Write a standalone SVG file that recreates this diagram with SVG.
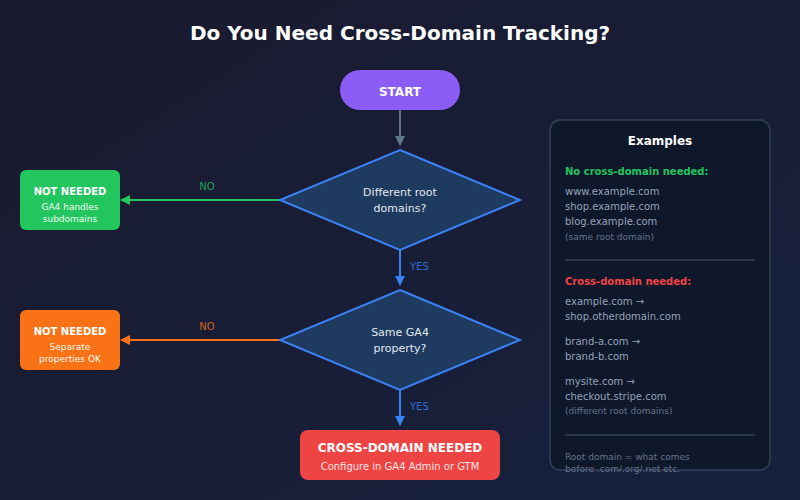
<svg xmlns="http://www.w3.org/2000/svg" width="800" height="500" viewBox="0 0 800 500">
<defs>
<linearGradient id="bg" x1="0" y1="0" x2="1" y2="1">
<stop offset="0" stop-color="#1a1a2e"/>
<stop offset="1" stop-color="#16213e"/>
</linearGradient>
<marker id="ag" markerWidth="10" markerHeight="10" refX="9" refY="5" orient="auto" markerUnits="userSpaceOnUse"><path d="M0,0 L10,5 L0,10 z" fill="#64748b"/></marker>
<marker id="ab" markerWidth="10" markerHeight="10" refX="9" refY="5" orient="auto" markerUnits="userSpaceOnUse"><path d="M0,0 L10,5 L0,10 z" fill="#3b82f6"/></marker>
<marker id="agr" markerWidth="10" markerHeight="10" refX="9" refY="5" orient="auto" markerUnits="userSpaceOnUse"><path d="M0,0 L10,5 L0,10 z" fill="#22c55e"/></marker>
<marker id="aor" markerWidth="10" markerHeight="10" refX="9" refY="5" orient="auto" markerUnits="userSpaceOnUse"><path d="M0,0 L10,5 L0,10 z" fill="#f97316"/></marker>
</defs>
<style>
text{font-family:"DejaVu Sans","Noto Sans",sans-serif}
.c{text-anchor:middle}
.b{font-weight:bold}
.dia{fill:#1e3a5f;stroke:#3b82f6;stroke-width:2}
.dt{fill:#e2e8f0;font-size:11px}
.lbl{font-size:10px}
.ex{fill:#94a3b8;font-size:10px}
.note{fill:#64748b;font-size:9px}
</style>
<rect width="800" height="500" fill="url(#bg)"/>
<text x="400" y="40" class="c b" fill="#ffffff" font-size="20">Do You Need Cross-Domain Tracking?</text>

<g id="connectors" fill="none" stroke-width="2">
<line x1="400" y1="110" x2="400" y2="145" stroke="#64748b" marker-end="url(#ag)"/>
<line x1="400" y1="250" x2="400" y2="285" stroke="#3b82f6" marker-end="url(#ab)"/>
<line x1="400" y1="390" x2="400" y2="425" stroke="#3b82f6" marker-end="url(#ab)"/>
<line x1="280" y1="200" x2="121" y2="200" stroke="#22c55e" marker-end="url(#agr)"/>
<line x1="280" y1="340" x2="121" y2="340" stroke="#f97316" marker-end="url(#aor)"/>
<text x="410" y="270" class="lbl" fill="#3b82f6" stroke="none" opacity="0.8">YES</text>
<text x="410" y="410" class="lbl" fill="#3b82f6" stroke="none" opacity="0.8">YES</text>
<text x="207" y="190" class="lbl c" fill="#22c55e" stroke="none" opacity="0.8">NO</text>
<text x="207" y="330" class="lbl c" fill="#f97316" stroke="none" opacity="0.8">NO</text>
</g>

<g id="start">
<rect x="340" y="70" width="120" height="40" rx="20" fill="#8b5cf6"/>
<text x="400" y="96" class="c b" fill="#ffffff" font-size="12">START</text>
</g>

<g id="q1">
<polygon points="400,150 520,200 400,250 280,200" class="dia"/>
<text x="400" y="196" class="c dt">Different root</text>
<text x="400" y="212" class="c dt">domains?</text>
</g>

<g id="q2">
<polygon points="400,290 520,340 400,390 280,340" class="dia"/>
<text x="400" y="336" class="c dt">Same GA4</text>
<text x="400" y="352" class="c dt">property?</text>
</g>

<g id="needed">
<rect x="300" y="430" width="200" height="50" rx="8" fill="#ef4444"/>
<text x="400" y="452" class="c b" fill="#ffffff" font-size="12">CROSS-DOMAIN NEEDED</text>
<text x="400" y="470" class="c" fill="#fee2e2" font-size="10">Configure in GA4 Admin or GTM</text>
</g>

<g id="notneeded1">
<rect x="20" y="170" width="100" height="60" rx="6" fill="#22c55e"/>
<text x="70" y="195" class="c b" fill="#ffffff" font-size="10">NOT NEEDED</text>
<text x="70" y="210" class="c" fill="#f0fdf4" font-size="9">GA4 handles</text>
<text x="70" y="222" class="c" fill="#f0fdf4" font-size="9">subdomains</text>
</g>

<g id="notneeded2">
<rect x="20" y="310" width="100" height="60" rx="6" fill="#f97316"/>
<text x="70" y="335" class="c b" fill="#ffffff" font-size="10">NOT NEEDED</text>
<text x="70" y="350" class="c" fill="#fff7ed" font-size="9">Separate</text>
<text x="70" y="362" class="c" fill="#fff7ed" font-size="9">properties OK</text>
</g>

<g id="examples">
<rect x="550" y="120" width="220" height="350" rx="10" fill="#0f172a" stroke="#334155" stroke-width="1.5"/>
<text x="660" y="145" class="c b" fill="#ffffff" font-size="12">Examples</text>
<text x="565" y="175" class="b" fill="#22c55e" font-size="10">No cross-domain needed:</text>
<text x="565" y="195" class="ex">www.example.com</text>
<text x="565" y="210" class="ex">shop.example.com</text>
<text x="565" y="225" class="ex">blog.example.com</text>
<text x="565" y="240" class="note">(same root domain)</text>
<line x1="565" y1="260" x2="755" y2="260" stroke="#334155" stroke-width="1.5"/>
<text x="565" y="285" class="b" fill="#ef4444" font-size="10">Cross-domain needed:</text>
<text x="565" y="305" class="ex">example.com →</text>
<text x="565" y="320" class="ex">shop.otherdomain.com</text>
<text x="565" y="345" class="ex">brand-a.com →</text>
<text x="565" y="360" class="ex">brand-b.com</text>
<text x="565" y="385" class="ex">mysite.com →</text>
<text x="565" y="400" class="ex">checkout.stripe.com</text>
<text x="565" y="414" class="note">(different root domains)</text>
<line x1="565" y1="435" x2="755" y2="435" stroke="#334155" stroke-width="1.5"/>
<text x="565" y="460" class="note">Root domain = what comes</text>
<text x="565" y="472" class="note">before .com/.org/.net etc.</text>
</g>
</svg>
